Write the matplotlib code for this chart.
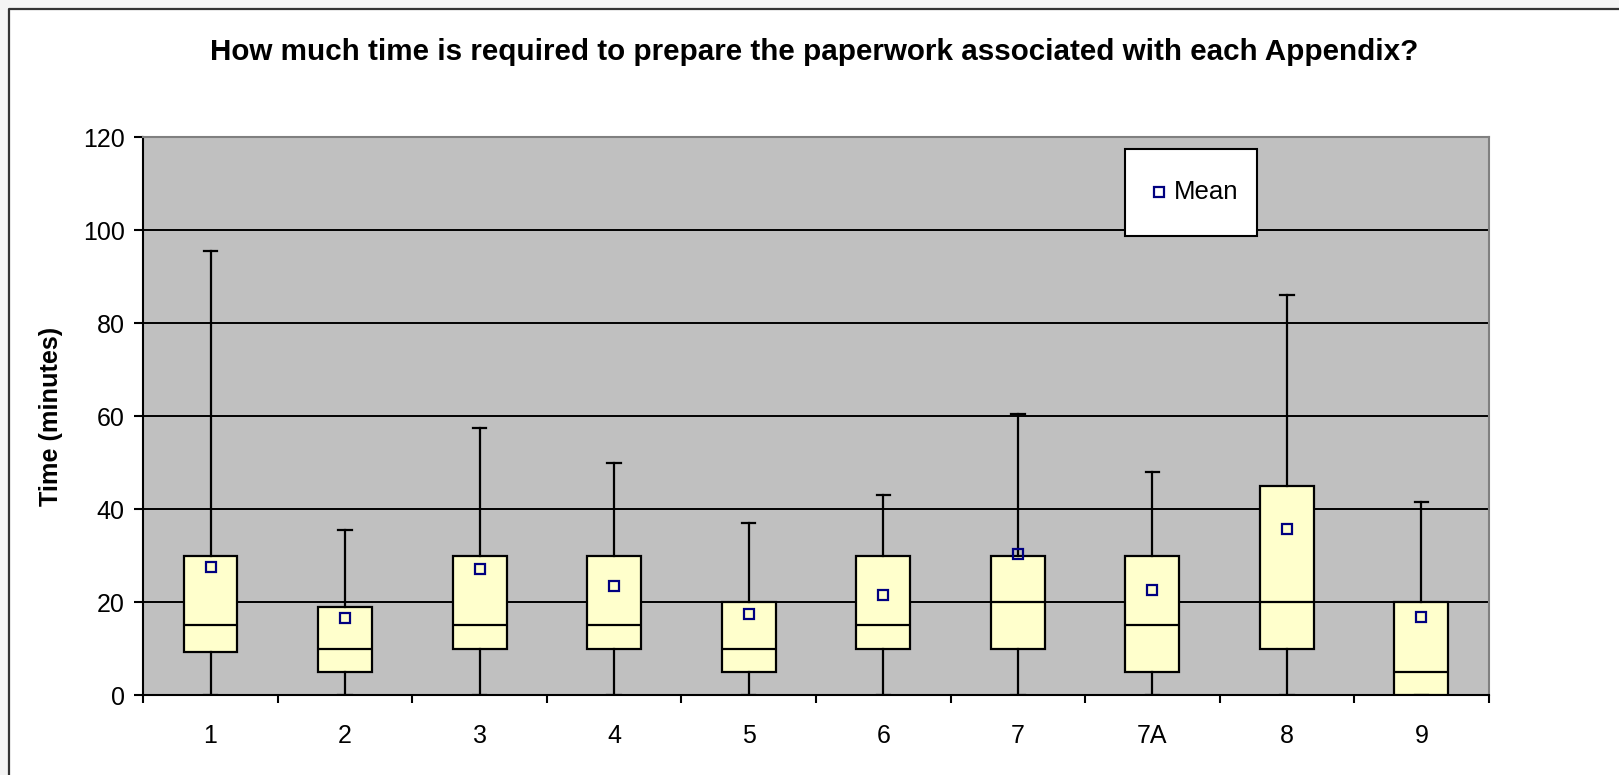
import matplotlib
matplotlib.use('Agg')
import matplotlib.pyplot as plt
from matplotlib.lines import Line2D
from matplotlib.patches import Rectangle
import numpy as np

plt.rcParams['font.family'] = ['Liberation Sans', 'DejaVu Sans']

# values (minutes)
appendix = ['1', '2', '3', '4', '5', '6', '7', '7A', '8', '9']
whisker_low = [0, 0, 0, 0, 0, 0, 0, 0, 0, 0]
q1 = [9.3, 5, 10, 10, 5, 10, 10, 5, 10, 0]
median = [15, 10, 15, 15, 10, 15, 20, 15, 20, 5]
q3 = [30, 19, 30, 30, 20, 30, 30, 30, 45, 20]
whisker_high = [95.5, 35.5, 57.5, 50, 37, 43, 60.5, 48, 86, 41.5]
mean = [27.5, 16.5, 27, 23.5, 17.5, 21.5, 30.3, 22.5, 35.8, 16.8]

title = 'How much time is required to prepare the paperwork associated with each Appendix?'

stats = []
for i in range(len(appendix)):
    stats.append(dict(label=appendix[i], whislo=whisker_low[i], q1=q1[i], med=median[i],
                      q3=q3[i], whishi=whisker_high[i], mean=mean[i], fliers=[]))

fig = plt.figure(figsize=(16.19, 7.75), dpi=100, facecolor='#f4f4f4')
x0 = 9 / 1619.
y1 = 1 - 9 / 775.
fig.add_artist(Rectangle((x0, 0), 1 - x0, y1, transform=fig.transFigure,
                         facecolor='white', edgecolor='none', zorder=-1))
fig.add_artist(Line2D([x0, x0, 1], [0, y1, y1], transform=fig.transFigure,
                      color='#333333', lw=1.6))

ax = fig.add_axes([0.0885, 0.1032, 0.831, 0.72])
ax.set_facecolor('#C0C0C0')

pos = np.arange(1, len(appendix) + 1)
lw = 1.6
mean_style = dict(marker='s', markersize=7.5, markerfacecolor='none',
                  markeredgecolor='#000080', markeredgewidth=1.6)
ax.bxp(stats, positions=pos, widths=0.4, capwidths=0.1, showmeans=True,
       showfliers=False, patch_artist=True, zorder=3,
       boxprops=dict(facecolor='#FFFFCC', edgecolor='black', linewidth=lw),
       medianprops=dict(color='black', linewidth=lw),
       whiskerprops=dict(color='black', linewidth=lw),
       capprops=dict(color='black', linewidth=lw),
       meanprops=mean_style)

ax.set_xlim(0.5, len(appendix) + 0.5)
ax.set_ylim(0, 120)
ax.set_yticks(np.arange(0, 121, 20))
ax.yaxis.grid(True, color='black', linewidth=1.4)
ax.set_axisbelow(True)

ax.set_xticks(pos)
ax.set_xticklabels(appendix)
ax.set_xticks(np.arange(0.5, len(appendix) + 1), minor=True)
ax.tick_params(axis='x', which='major', length=0, pad=21, labelsize=18)
ax.tick_params(axis='x', which='minor', length=6, width=1.5, direction='out')
ax.tick_params(axis='y', length=6.5, width=1.5, direction='out', pad=7, labelsize=18)

for s in ['left', 'bottom']:
    ax.spines[s].set_color('black')
    ax.spines[s].set_linewidth(1.5)
for s in ['top', 'right']:
    ax.spines[s].set_color('#808080')
    ax.spines[s].set_linewidth(1.5)

ax.set_ylabel('Time (minutes)', fontsize=18.2, fontweight='bold')
ax.yaxis.set_label_coords(-0.0594, 0.5)

# legend box drawn by hand (Excel style: tall box, marker + label)
ax.add_patch(Rectangle((0.7297, 0.8226), 0.0981, 0.1559, transform=ax.transAxes,
                       facecolor='white', edgecolor='black', linewidth=1.5,
                       zorder=5, clip_on=False))
ax.plot([0.7553], [0.9014], transform=ax.transAxes, ls='none', zorder=6,
        clip_on=False, **mean_style)
ax.text(0.7662, 0.9014, 'Mean', transform=ax.transAxes, ha='left', va='center',
        fontsize=18.5, zorder=6)

fig.text(0.503, 0.933, title, ha='center', va='center', fontsize=21.3, fontweight='bold')

fig.savefig('out.png', dpi=100, facecolor=fig.get_facecolor())
